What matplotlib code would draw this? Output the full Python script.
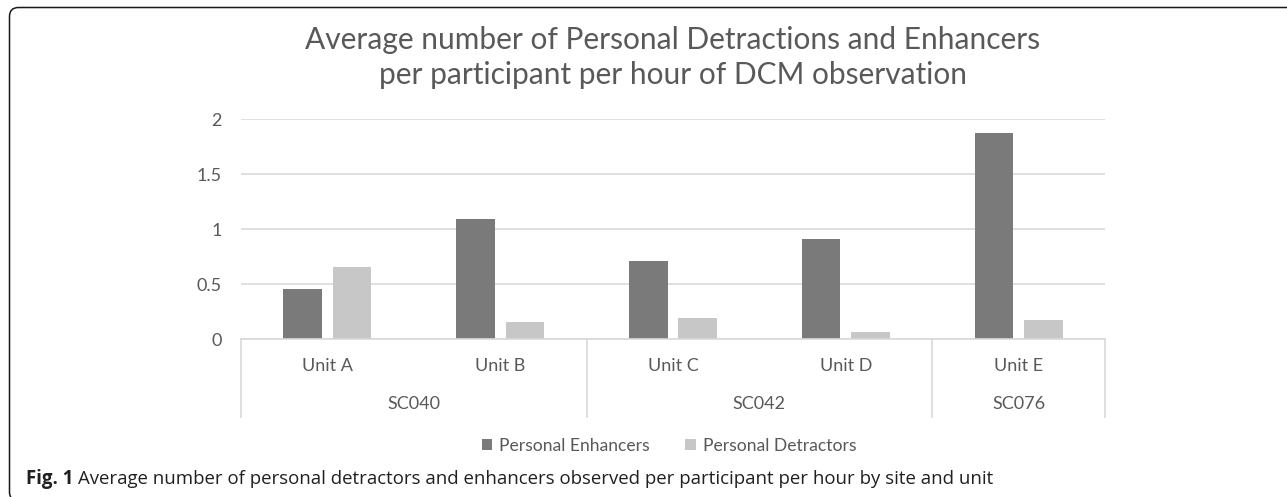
import matplotlib
matplotlib.use('Agg')
import matplotlib.pyplot as plt
import matplotlib.patches as mpatches
from matplotlib.transforms import IdentityTransform
import numpy as np

units = ['Unit A', 'Unit B', 'Unit C', 'Unit D', 'Unit E']
sites = ['SC040', 'SC040', 'SC042', 'SC042', 'SC076']
enhancers = [0.46, 1.09, 0.71, 0.91, 1.88]
detractors = [0.66, 0.16, 0.19, 0.07, 0.18]
series_names = ['Personal Enhancers', 'Personal Detractors']
yticks = [0, 0.5, 1, 1.5, 2]
ytick_labels = ['0', '0.5', '1', '1.5', '2']
title_lines = ['Average number of Personal Detractions and Enhancers',
               'per participant per hour of DCM observation']
caption_bold = 'Fig. 1'
caption_rest = ('Average number of personal detractors and enhancers observed '
                'per participant per hour by site and unit')

DARK = '#7a7a7a'
LIGHT = '#c6c7c6'
GRID = '#d9d9d9'
TXT = '#595959'
FONT = 'Lato'

W, H = 1287, 497
plt.rcParams['font.family'] = [FONT, 'DejaVu Sans']

fig = plt.figure(figsize=(W / 100, H / 100), dpi=100)
ax = fig.add_axes([241 / W, 1 - 339.3 / H, 864 / W, 220 / H])

x = np.arange(len(units))
bw, off = 0.224, 0.143
b1 = ax.bar(x - off, enhancers, bw, color=DARK, zorder=2)
b2 = ax.bar(x + off, detractors, bw, color=LIGHT, zorder=2)

ax.set_xlim(-0.5, len(units) - 0.5)
ax.set_ylim(0, 2)
ax.set_yticks(yticks)
ax.set_yticklabels(ytick_labels)
ax.set_xticks([])
ax.yaxis.grid(True, color=GRID, lw=1.2, zorder=0)
ax.set_axisbelow(True)
for s in ['top', 'right', 'left']:
    ax.spines[s].set_visible(False)
ax.spines['bottom'].set_color(GRID)
ax.spines['bottom'].set_linewidth(1.2)
ax.tick_params(axis='y', length=0, pad=14, labelsize=13, labelcolor=TXT)

# two-level category axis
trans = ax.get_xaxis_transform()
for i, u in enumerate(units):
    ax.text(i, -0.12, u, transform=trans, ha='center', va='center',
            fontsize=13, color=TXT)
bounds = [-0.5] + [i + 0.5 for i in range(len(sites) - 1)
                   if sites[i] != sites[i + 1]] + [len(sites) - 0.5]
for b in bounds:
    ax.plot([b, b], [0, -0.355], transform=trans, clip_on=False,
            color=GRID, lw=1.2)
for lo, hi in zip(bounds[:-1], bounds[1:]):
    ax.text((lo + hi) / 2, -0.294, sites[int(lo + 0.5)], transform=trans,
            ha='center', va='center', fontsize=13, color=TXT)

# title
for k, line in enumerate(title_lines):
    fig.text(673 / W, 1 - (40 + 35 * k) / H, line, ha='center', va='center',
             fontsize=21.5, color=TXT)

fig.legend([b1, b2], series_names, loc='center',
           bbox_to_anchor=(669 / W, 1 - 446 / H), ncol=2, frameon=False,
           fontsize=12.6, handlelength=0.6, handleheight=0.6,
           columnspacing=2.0, handletextpad=0.4, labelcolor=TXT)

# caption
t = fig.text(26 / W, 1 - 479 / H, caption_bold, ha='left', va='center',
             fontsize=13.4, weight='bold', color='#231f20', family='Open Sans')
fig.canvas.draw()
bb = t.get_window_extent()
fig.text((bb.x1 + 5) / W, 1 - 479 / H, caption_rest, ha='left', va='center',
         fontsize=13.4, color='#231f20', family='Open Sans')

# frame around the figure (only top and left edges fall inside the image)
frame = mpatches.FancyBboxPatch((9.5, -4), 1400, H - 7 + 4 - 0.5,
                                boxstyle='round,pad=0,rounding_size=9',
                                transform=IdentityTransform(),
                                fill=False, ec='#1a1a1a', lw=1.1)
fig.add_artist(frame)

fig.savefig('out.png', dpi=100)
